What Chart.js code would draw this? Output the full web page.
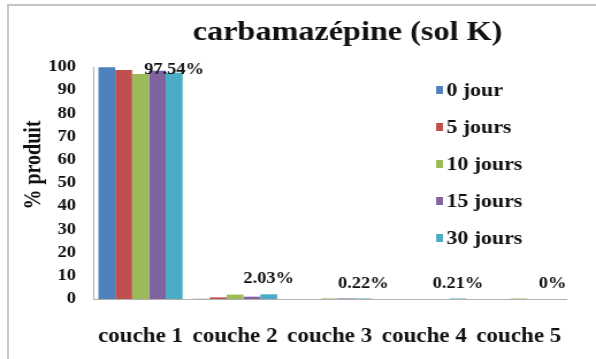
<!DOCTYPE html>
<html>
<head>
<meta charset="utf-8">
<script src="https://cdn.jsdelivr.net/npm/chart.js@4.4.0/dist/chart.umd.min.js"></script>
<style>
  html, body { margin: 0; padding: 0; background: #fff; overflow: hidden; width: 596px; height: 359px; }
  #frame { position: absolute; left: 7px; top: 4px; width: 620px; height: 400px; border: 2px solid #c6c6c6; }
  /* the figure is drawn narrow and widened, giving the wide serif lettering */
  #wrap { position: absolute; left: 0; top: 0; width: 518px; height: 359px; transform: scaleX(1.1506); transform-origin: 0 0; }
</style>
</head>
<body>
<div id="frame"></div>
<div id="wrap"><canvas id="chart" width="518" height="359"></canvas></div>
<script>
const categories = ['couche 1', 'couche 2', 'couche 3', 'couche 4', 'couche 5'];
const seriesNames = ['0 jour', '5 jours', '10 jours', '15 jours', '30 jours'];
const seriesColors = ['#4F81BD', '#C0504D', '#9BBB59', '#8064A2', '#4BACC6'];

const jour0 = [99.9, 0.1, 0, 0, 0];
const jours5 = [98.7, 0.7, 0, 0, 0];
const jours10 = [97.0, 1.9, 0.25, 0, 0.2];
const jours15 = [98.4, 1.0, 0.25, 0, 0];
const jours30 = [97.54, 2.03, 0.22, 0.21, 0];

const yTicks = [0, 10, 20, 30, 40, 50, 60, 70, 80, 90, 100];
const chartTitle = 'carbamazépine (sol K)';
const yTitle = '% produit';

const FONT = '"Liberation Serif", "Times New Roman", serif';
const INK = '#111111';

const seriesValues = [jour0, jours5, jours10, jours15, jours30];

// title, rotated axis title, legend and the value labels of the last series
const decorations = {
  id: 'decorations',
  afterDatasetsDraw(chart) {
    const ctx = chart.ctx;
    const area = chart.chartArea;
    ctx.save();
    ctx.fillStyle = INK;

    ctx.font = `bold 28px ${FONT}`;
    ctx.textAlign = 'center';
    ctx.textBaseline = 'middle';
    ctx.fillText(chartTitle, 302, 33);

    ctx.save();
    ctx.translate(30, 165);
    ctx.rotate(-Math.PI / 2);
    ctx.font = `bold 20px ${FONT}`;
    ctx.fillText(yTitle, 0, 0);
    ctx.restore();

    // legend
    ctx.font = `bold 19px ${FONT}`;
    ctx.textAlign = 'left';
    chart.data.datasets.forEach((ds, i) => {
      const y = 90 + i * 37;
      ctx.fillStyle = ds.backgroundColor;
      ctx.fillRect(379, y - 4, 6, 8);
      ctx.fillStyle = INK;
      ctx.fillText(ds.label, 388, y + 1);
    });

    // value labels on the 30 jours bars
    const last = chart.data.datasets.length - 1;
    const meta = chart.getDatasetMeta(last);
    ctx.font = `bold 16px ${FONT}`;
    ctx.textAlign = 'center';
    meta.data.forEach((bar, i) => {
      const v = chart.data.datasets[last].data[i];
      const y = Math.max(bar.y - 15, area.top + 3);
      ctx.fillText(String(v) + '%', bar.x, y);
    });
    ctx.restore();
  }
};

new Chart(document.getElementById('chart'), {
  type: 'bar',
  data: {
    labels: categories,
    datasets: seriesNames.map((name, i) => ({
      label: name,
      data: seriesValues[i],
      backgroundColor: seriesColors[i],
      borderWidth: 0,
      categoryPercentage: 0.89,
      barPercentage: 1.0
    }))
  },
  options: {
    responsive: false,
    animation: false,
    devicePixelRatio: 1,
    layout: { padding: { left: 0, right: 26, top: 67, bottom: 0 } },
    plugins: {
      legend: { display: false },
      title: { display: false },
      tooltip: { enabled: false }
    },
    scales: {
      x: {
        grid: { display: false, drawTicks: false },
        border: { color: '#b0b0b0', width: 1 },
        ticks: { color: INK, font: { family: FONT, size: 20, weight: 'bold' }, padding: 26, maxRotation: 0 },
        afterFit(scale) { scale.height = 60; }
      },
      y: {
        min: 0,
        max: 100,
        grid: { display: false, drawTicks: false },
        border: { color: '#b0b0b0', width: 1 },
        ticks: { color: INK, font: { family: FONT, size: 16, weight: 'bold' }, padding: 15 },
        afterBuildTicks(scale) { scale.ticks = yTicks.map(v => ({ value: v })); },
        afterFit(scale) { scale.width = 81; }
      }
    }
  },
  plugins: [decorations]
});
</script>
</body>
</html>
